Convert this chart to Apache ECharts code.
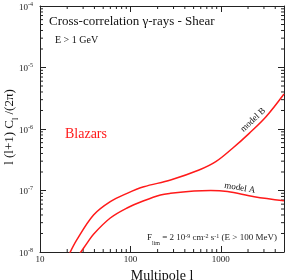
<!DOCTYPE html>
<html><head><meta charset="utf-8">
<script src="https://cdn.jsdelivr.net/npm/echarts@6/dist/echarts.min.js"></script>
<style>html,body{margin:0;padding:0;background:#fff}#c{width:287px;height:280px}</style>
</head><body><div id="c"></div>
<script>
// ---- data ----
const ellB = [20.5, 25.5, 39.1, 59.9, 91.9, 140.6, 278, 574, 880, 1349, 2061, 3162, 5000];
const clB  = [8.5e-9, 1.57e-8, 4.0e-8, 6.6e-8, 9.0e-8, 1.15e-7, 1.48e-7, 2.15e-7, 2.94e-7, 4.86e-7, 8.5e-7, 1.58e-6, 3.7e-6];
const ellA = [26.5, 33, 39.1, 59.9, 91.9, 140.6, 215, 278, 505, 774, 1186, 2344, 5000];
const clA  = [8.7e-9, 1.38e-8, 1.95e-8, 3.57e-8, 5.2e-8, 6.8e-8, 8.45e-8, 9.0e-8, 9.8e-8, 1.0e-7, 9.6e-8, 7.9e-8, 6.8e-8];
const xMinorTicks = [20,30,40,50,60,70,80,90,200,300,400,500,600,700,800,900,2000,3000,4000];
const yMinorTicks = [2e-8,3e-8,4e-8,5e-8,6e-8,7e-8,8e-8,9e-8,2e-7,3e-7,4e-7,5e-7,6e-7,7e-7,8e-7,9e-7,
                     2e-6,3e-6,4e-6,5e-6,6e-6,7e-6,8e-6,9e-6,2e-5,3e-5,4e-5,5e-5,6e-5,7e-5,8e-5,9e-5];
const xTickLabels = [10, 100, 1000];
const yTickExps = [-8, -7, -6, -5, -4];
const xMin = 10, xMax = 5000, yMin = 1e-8, yMax = 1e-4;

const FONT = '"Liberation Serif","DejaVu Serif",serif';
const AX = '#222';
const RED = '#ff1a1a';

const chart = echarts.init(document.getElementById('c'), null, {renderer: 'canvas'});

function xLabel(v) {
  const r = xTickLabels.find(t => Math.abs(t - v) / t < 1e-6);
  return r === undefined ? '' : String(r);
}
function yLabel(v) {
  const e = Math.round(Math.log10(v));
  if (Math.abs(Math.log10(v) - e) > 1e-6 || yTickExps.indexOf(e) < 0) return '';
  return '{b|10}{s|' + e + '}';
}

const baseAxisLine = {show: true, lineStyle: {color: AX, width: 1}};
const option = {
  animation: false,
  grid: {left: 40, top: 6, right: 3, bottom: 28, containLabel: false, outerBoundsMode: 'none'},
  xAxis: [
    {type: 'log', logBase: 10, min: xMin, max: xMax, position: 'bottom',
     axisLine: baseAxisLine, axisTick: {inside: true, length: 6, lineStyle: {color: AX}},
     splitLine: {show: false}, minorTick: {show: false},
     axisLabel: {formatter: xLabel, fontFamily: FONT, fontSize: 9, color: '#222', margin: 3, showMaxLabel: false},
     name: 'Multipole l', nameLocation: 'middle', nameGap: 11,
     nameTextStyle: {fontFamily: FONT, fontSize: 14, color: '#111'}},
    {type: 'log', logBase: 10, min: xMin, max: xMax, position: 'top',
     axisLine: baseAxisLine, axisTick: {inside: true, length: 6, lineStyle: {color: AX}},
     splitLine: {show: false}, axisLabel: {show: false}}
  ],
  yAxis: [
    {type: 'log', logBase: 10, min: yMin, max: yMax, position: 'left',
     axisLine: baseAxisLine, axisTick: {inside: true, length: 6, lineStyle: {color: AX}},
     splitLine: {show: false},
     axisLabel: {formatter: yLabel, margin: 7, color: '#222',
       rich: {b: {fontFamily: FONT, fontSize: 9, color: '#222', verticalAlign: 'bottom', lineHeight: 12},
              s: {fontFamily: FONT, fontSize: 6, color: '#222', verticalAlign: 'bottom', lineHeight: 12, padding: [0,0,5,0]}}}},
    {type: 'log', logBase: 10, min: yMin, max: yMax, position: 'right',
     axisLine: baseAxisLine, axisTick: {inside: true, length: 6, lineStyle: {color: AX}},
     splitLine: {show: false}, axisLabel: {show: false}}
  ],
  series: [
    {type: 'line', name: 'model B', data: ellB.map((l, i) => [l, clB[i]]), showSymbol: false,
     smooth: 0.35, clip: true, lineStyle: {color: RED, width: 1.5}},
    {type: 'line', name: 'model A', data: ellA.map((l, i) => [l, clA[i]]), showSymbol: false,
     smooth: 0.35, clip: true, lineStyle: {color: RED, width: 1.5}},
    {type: 'custom', data: xMinorTicks.map(v => [v, yMin]), encode: {x: 0, y: 1}, clip: false, silent: true,
     renderItem: function (params, api) {
       const v = api.value(0);
       const b = api.coord([v, yMin]); const t = api.coord([v, yMax]);
       return {type: 'group', children: [
         {type: 'line', shape: {x1: b[0], y1: b[1], x2: b[0], y2: b[1] - 3}, style: {stroke: AX, lineWidth: 1}},
         {type: 'line', shape: {x1: t[0], y1: t[1], x2: t[0], y2: t[1] + 3}, style: {stroke: AX, lineWidth: 1}}
       ]};
     }},
    {type: 'custom', data: yMinorTicks.map(v => [xMin, v]), encode: {x: 0, y: 1}, clip: false, silent: true,
     renderItem: function (params, api) {
       const v = api.value(1);
       const l = api.coord([xMin, v]); const r = api.coord([xMax, v]);
       return {type: 'group', children: [
         {type: 'line', shape: {x1: l[0], y1: l[1], x2: l[0] + 3, y2: l[1]}, style: {stroke: AX, lineWidth: 1}},
         {type: 'line', shape: {x1: r[0], y1: r[1], x2: r[0] - 3, y2: r[1]}, style: {stroke: AX, lineWidth: 1}}
       ]};
     }}
  ]
};
chart.setOption(option);

const pB = chart.convertToPixel({gridIndex: 0}, [2270, 1.4e-6]);
const pA = chart.convertToPixel({gridIndex: 0}, [1626, 1.1e-7]);

chart.setOption({
  graphic: [
    {type: 'text', left: 49, top: 15, style: {text: 'Cross-correlation γ-rays - Shear', font: '13px ' + FONT, fill: '#111'}},
    {type: 'text', left: 55, top: 35, style: {text: 'E > 1 GeV', font: '10px ' + FONT, fill: '#111'}},
    {type: 'text', left: 65, top: 127, style: {text: 'Blazars', font: '14px ' + FONT, fill: RED}},
    {type: 'text', x: pB[0], y: pB[1], rotation: 0.76,
     style: {text: 'model B', font: '9px ' + FONT, fill: '#111', align: 'center', verticalAlign: 'middle'}},
    {type: 'text', x: pA[0], y: pA[1], rotation: -0.17,
     style: {text: 'model A', font: '9px ' + FONT, fill: '#111', align: 'center', verticalAlign: 'middle'}},
    {type: 'text', x: 147, y: 238,
     style: {text: 'F{sub|lim} = 2 10{sup|-9} cm{sup|-2} s{sup|-1} (E > 100 MeV)',
       font: '9px ' + FONT, fill: '#222', verticalAlign: 'middle',
       rich: {sub: {font: '6px ' + FONT, fill: '#222', verticalAlign: 'bottom', lineHeight: 11, padding: [0,0,-3,0]},
              sup: {font: '6px ' + FONT, fill: '#222', verticalAlign: 'bottom', lineHeight: 11, padding: [0,0,4,0]}}}},
    {type: 'text', x: 10, y: 127, rotation: Math.PI / 2,
     style: {text: 'l (l+1) C{sub|l} /(2π)', font: '13px ' + FONT, fill: '#111', align: 'center', verticalAlign: 'middle',
       rich: {sub: {font: '8px ' + FONT, fill: '#111', verticalAlign: 'bottom', padding: [0,0,-3,0]}}}}
  ]
});
</script>
</body></html>
